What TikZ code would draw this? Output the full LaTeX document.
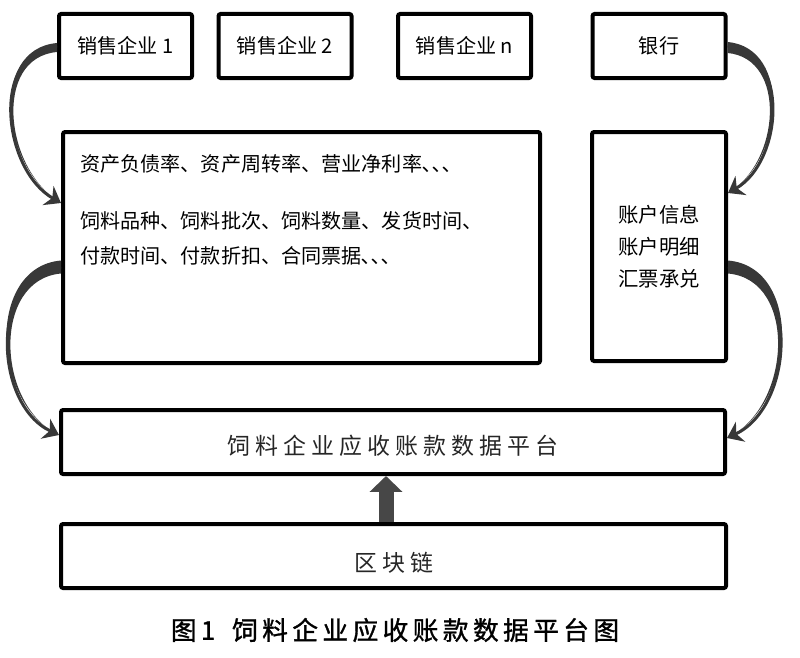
\documentclass[tikz,border=0pt]{standalone}
\usepackage{fontspec}
\setmainfont{Noto Sans CJK SC}
\newfontfamily\widefont[LetterSpace=22]{Noto Sans CJK SC}
\newfontfamily\capfont[LetterSpace=17,FakeBold=1.2]{Noto Sans CJK SC}
\usetikzlibrary{arrows.meta}
\newcommand{\pxu}{0.025cm}
\tikzset{
  entbox/.style = {draw, line width=4*\pxu, rounded corners=1.5pt, inner sep=0pt,
                   minimum width=133*\pxu, minimum height=64*\pxu,
                   font=\fontsize{14.3pt}{17pt}\selectfont},
  bigbox/.style = {draw, line width=4*\pxu, rounded corners=1.5pt, inner sep=0pt},
  boxtext/.style = {inner sep=0pt, align=left, font=\fontsize{14.3pt}{24.8pt}\selectfont},
  flowarrow/.style = {draw=black!78, line width=3*\pxu, -{Stealth[length=10.6pt, width=15.6pt]}},
  brush/.style = {fill=black!78},
  liftarrow/.style = {draw=black!72, line width=15*\pxu, -{Triangle[length=11.3pt, width=22.7pt]}}
}
\begin{document}
\begin{tikzpicture}[x=\pxu, y=-\pxu]
	\useasboundingbox (0,0) rectangle (800,657);

	% top row
	\node[entbox] (firm1) at (125.5,46) {销售企业 1};
	\node[entbox] (firm2) at (285,46) {销售企业 2};
	\node[entbox] (firmn) at (464.5,46) {销售企业 n};
	\node[entbox] (bank) at (659,46) {银行};

	% middle row
	\node[bigbox, minimum width=477*\pxu, minimum height=231*\pxu] (info) at (301.5,247.5) {};
	\node[boxtext, anchor=north west] (infotext) at ([xshift=19*\pxu, yshift=-24*\pxu]info.north west)
		{资产负债率、资产周转率、营业净利率､､､\\[15.6pt]
		 饲料品种、饲料批次、饲料数量、发货时间、\\
		 付款时间、付款折扣、合同票据､､､};
	\node[bigbox, minimum width=134*\pxu, minimum height=229*\pxu] (acct) at (659,246.5) {};
	\node[boxtext, align=center, font=\fontsize{14.5pt}{22.7pt}\selectfont] (accttext) at (acct.center)
		{账户信息\\账户明细\\汇票承兑};

	% platform and blockchain
	\node[bigbox, minimum width=664*\pxu, minimum height=64*\pxu] (plat) at (393,442) {};
	\node[font=\widefont\fontsize{16.3pt}{18pt}\selectfont, text=black!85] (plattext) at (393,446) {饲料企业应收账款数据平台};
	\node[bigbox, minimum width=665*\pxu, minimum height=64*\pxu] (chain) at (393.5,556) {};
	\node[font=\widefont\fontsize{16.3pt}{18pt}\selectfont, text=black!85] (chaintext) at (394,563) {区块链};

	% caption
	\node[font=\capfont\fontsize{18.3pt}{20pt}\selectfont] (caption) at (395,630) {图1\hspace{12pt}饲料企业应收账款数据平台图};

	% arrow ends
	\coordinate (tip1) at ([yshift=44.5*\pxu]info.west);
	\coordinate (tip2) at ([yshift=7*\pxu]plat.west);
	\coordinate (tip3) at ([yshift=53.5*\pxu]acct.east);
	\coordinate (tip4) at ([yshift=4*\pxu]plat.east);

	% brush strokes
	\fill[brush] ([yshift=3*\pxu]firm1.west) to[out=185, in=150, looseness=1.1] (tip1)
		to[out=150, in=185, looseness=1.1] ([yshift=-6*\pxu]firm1.west) -- cycle;
	\fill[brush] ([yshift=-13*\pxu]info.west) to[out=185, in=155, looseness=1.1] (tip2)
		to[out=155, in=185, looseness=1.1] ([yshift=-26*\pxu]info.west) -- cycle;
	\fill[brush] ([yshift=4*\pxu]bank.east) to[out=-5, in=30, looseness=1.1] (tip3)
		to[out=30, in=-5, looseness=1.1] ([yshift=-7*\pxu]bank.east) -- cycle;
	\fill[brush] ([yshift=-14*\pxu]acct.east) to[out=-5, in=25, looseness=1.1] (tip4)
		to[out=25, in=-5, looseness=1.1] ([yshift=-27*\pxu]acct.east) -- cycle;

	% arrows
	\draw[flowarrow] (firm1.west) to[out=185, in=150, looseness=1.1] (tip1);
	\draw[flowarrow] ([yshift=-19.5*\pxu]info.west) to[out=185, in=155, looseness=1.1] (tip2);
	\draw[flowarrow] (bank.east) to[out=-5, in=30, looseness=1.1] (tip3);
	\draw[flowarrow] ([yshift=-20.5*\pxu]acct.east) to[out=-5, in=25, looseness=1.1] (tip4);
	\draw[liftarrow] ([xshift=-7.5*\pxu]chain.north) -- ([xshift=-7*\pxu]plat.south);

\end{tikzpicture}
\end{document}
